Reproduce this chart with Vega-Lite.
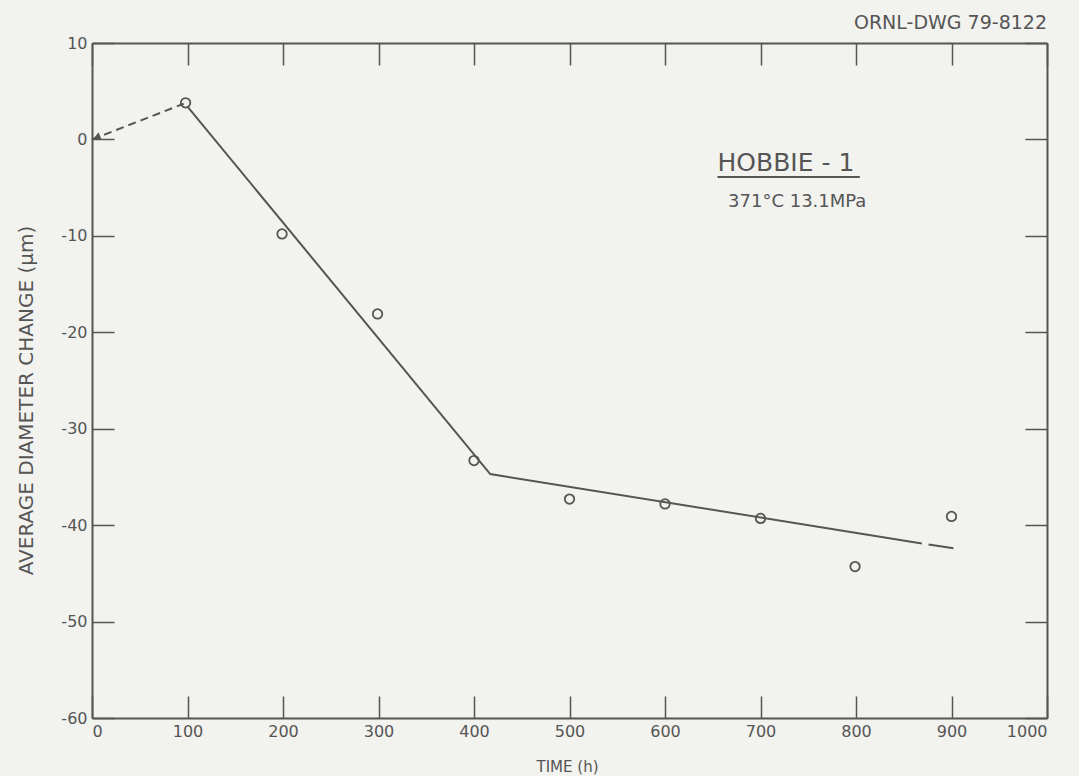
{
  "$schema": "https://vega.github.io/schema/vega-lite/v6.json",
  "width": 955,
  "height": 675,
  "autosize": {"type": "none"},
  "padding": {"left": 92, "top": 43, "right": 32, "bottom": 58},
  "background": "#f2f2ef",
  "title": {
    "text": "ORNL-DWG 79-8122",
    "anchor": "end",
    "frame": "group",
    "orient": "top",
    "offset": 2,
    "fontSize": 19,
    "font": "DejaVu Sans",
    "fontWeight": "normal",
    "color": "#555555"
  },
  "config": {
    "view": {"stroke": null},
    "axis": {
      "grid": false,
      "domainColor": "#555555",
      "domainWidth": 2,
      "tickColor": "#555555",
      "tickWidth": 1.5,
      "tickSize": -22,
      "labelFont": "DejaVu Sans",
      "labelFontSize": 16,
      "labelColor": "#555555",
      "titleFont": "DejaVu Sans",
      "titleFontWeight": "normal",
      "titleColor": "#555555"
    }
  },
  "datasets": {
    "obs": [
      {"time": 98, "change": 3.8},
      {"time": 199, "change": -9.8},
      {"time": 299, "change": -18.1},
      {"time": 400, "change": -33.3},
      {"time": 500, "change": -37.3},
      {"time": 600, "change": -37.8},
      {"time": 700, "change": -39.3},
      {"time": 799, "change": -44.3},
      {"time": 900, "change": -39.1}
    ],
    "fit": [
      {"time": 0, "change": 0, "seg": "extrap"},
      {"time": 96, "change": 3.7, "seg": "extrap"},
      {"time": 100, "change": 3.4, "seg": "a"},
      {"time": 417, "change": -34.7, "seg": "a"},
      {"time": 869, "change": -41.9, "seg": "a"},
      {"time": 876, "change": -42.0, "seg": "b"},
      {"time": 902, "change": -42.4, "seg": "b"}
    ],
    "arrow": [{"time": 5, "change": 0.2}],
    "notes": [
      {"time": 655, "change": -3.3, "role": "name", "label": "HOBBIE - 1"},
      {"time": 666, "change": -7.0, "role": "cond", "label": "371°C 13.1MPa"}
    ],
    "under": [{"time": 655, "time2": 804, "change": -3.9}]
  },
  "layer": [
    {
      "data": {"name": "fit"},
      "transform": [{"filter": "datum.seg == 'extrap'"}],
      "mark": {"type": "line", "color": "#555555", "strokeWidth": 2, "strokeDash": [8, 5]},
      "encoding": {
        "x": {"field": "time", "type": "quantitative",
              "scale": {"domain": [0, 1000], "nice": false, "zero": false},
              "axis": {"orient": "bottom", "values": [0,100,200,300,400,500,600,700,800,900,1000],
                       "labelPadding": 27, "labelExpr": "datum.value + ''",
                       "title": "TIME (h)", "titleFontSize": 15, "titleX": 475, "titleY": 48, "titleBaseline": "middle", "titleAlign": "center"}},
        "y": {"field": "change", "type": "quantitative",
              "scale": {"domain": [-60, 10], "nice": false, "zero": false},
              "axis": {"orient": "left", "values": [-60,-50,-40,-30,-20,-10,0,10],
                       "labelPadding": 27, "labelExpr": "datum.value + ''",
                       "title": "AVERAGE DIAMETER CHANGE  (μm)", "titleFontSize": 20,
                       "titleAngle": 270, "titleX": -66, "titleY": 357, "titleAlign": "center", "titleBaseline": "middle"}}
      }
    },
    {
      "data": {"name": "fit"},
      "transform": [{"filter": "datum.seg != 'extrap'"}],
      "mark": {"type": "line", "color": "#555555", "strokeWidth": 2},
      "encoding": {
        "x": {"field": "time", "type": "quantitative",
              "axis": {"orient": "top", "values": [0,100,200,300,400,500,600,700,800,900,1000], "labels": false, "title": null}},
        "y": {"field": "change", "type": "quantitative",
              "axis": {"orient": "right", "values": [-60,-50,-40,-30,-20,-10,0,10], "labels": false, "title": null}},
        "detail": {"field": "seg"}
      }
    },
    {
      "data": {"name": "obs"},
      "mark": {"type": "point", "shape": "circle", "filled": false, "color": "#555555", "strokeWidth": 1.8, "size": 90, "opacity": 1},
      "encoding": {
        "x": {"field": "time", "type": "quantitative", "axis": null},
        "y": {"field": "change", "type": "quantitative", "axis": null}
      }
    },
    {
      "data": {"name": "arrow"},
      "mark": {"type": "point", "shape": "triangle-left", "filled": true, "color": "#555555", "size": 70, "angle": 338.5, "opacity": 1},
      "encoding": {
        "x": {"field": "time", "type": "quantitative", "axis": null},
        "y": {"field": "change", "type": "quantitative", "axis": null}
      }
    },
    {
      "data": {"name": "notes"},
      "transform": [{"filter": "datum.role == 'name'"}],
      "mark": {"type": "text", "align": "left", "baseline": "alphabetic", "font": "DejaVu Sans", "fontSize": 25, "color": "#555555"},
      "encoding": {
        "x": {"field": "time", "type": "quantitative", "axis": null},
        "y": {"field": "change", "type": "quantitative", "axis": null},
        "text": {"field": "label"}
      }
    },
    {
      "data": {"name": "notes"},
      "transform": [{"filter": "datum.role == 'cond'"}],
      "mark": {"type": "text", "align": "left", "baseline": "alphabetic", "font": "DejaVu Sans", "fontSize": 18, "color": "#555555"},
      "encoding": {
        "x": {"field": "time", "type": "quantitative", "axis": null},
        "y": {"field": "change", "type": "quantitative", "axis": null},
        "text": {"field": "label"}
      }
    },
    {
      "data": {"name": "under"},
      "mark": {"type": "rule", "color": "#555555", "strokeWidth": 2},
      "encoding": {
        "x": {"field": "time", "type": "quantitative", "axis": null},
        "x2": {"field": "time2"},
        "y": {"field": "change", "type": "quantitative", "axis": null}
      }
    }
  ],
  "resolve": {"axis": {"x": "independent", "y": "independent"}}
}
